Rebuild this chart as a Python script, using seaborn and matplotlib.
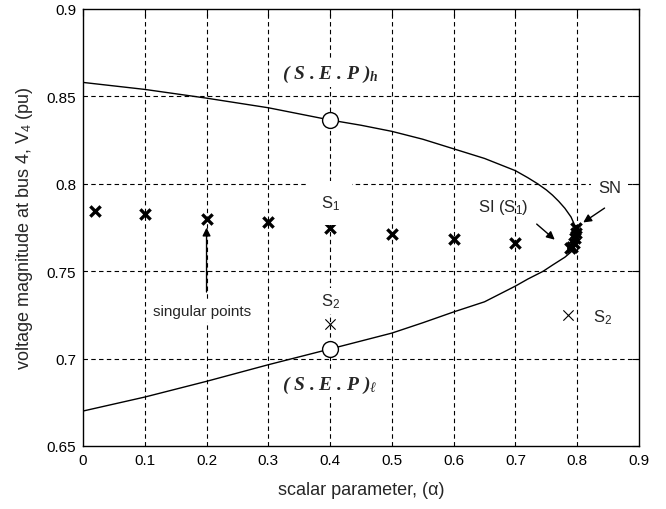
import matplotlib
matplotlib.use("Agg")
import matplotlib.pyplot as plt
import seaborn as sns
import pandas as pd
import numpy as np

# ---- data ----
upper_alpha = [0, 0.1, 0.2, 0.3, 0.4, 0.45, 0.5, 0.55, 0.6, 0.65, 0.7, 0.72, 0.736, 0.75,
               0.76, 0.77, 0.78, 0.79, 0.795, 0.798, 0.799]
upper_v = [0.858, 0.854, 0.849, 0.8435, 0.8365, 0.8335, 0.830, 0.8255, 0.820, 0.8145, 0.8075,
           0.8035, 0.800, 0.7965, 0.7935, 0.790, 0.786, 0.781, 0.777, 0.773, 0.770]
lower_alpha = [0.796, 0.79, 0.78, 0.76, 0.745, 0.72, 0.7, 0.65, 0.6, 0.55, 0.5, 0.4, 0.3,
               0.2, 0.1, 0]
lower_v = [0.765, 0.761, 0.758, 0.7535, 0.750, 0.7455, 0.7415, 0.7325, 0.7267, 0.7205, 0.7146,
           0.7055, 0.6965, 0.687, 0.678, 0.670]

sing_alpha = [0.02, 0.1, 0.2, 0.3, 0.4, 0.5, 0.6, 0.7]
sing_v = [0.7845, 0.783, 0.780, 0.778, 0.775, 0.7713, 0.7684, 0.766]

cluster_alpha = [0.788, 0.792, 0.795, 0.797, 0.798, 0.798]
cluster_v = [0.763, 0.764, 0.766, 0.769, 0.772, 0.775]

thin_alpha = [0.4, 0.785]
thin_v = [0.720, 0.725]

sep_alpha = [0.4, 0.4]
sep_v = [0.8365, 0.7055]

x_ticks = [0, 0.1, 0.2, 0.3, 0.4, 0.5, 0.6, 0.7, 0.8, 0.9]
y_ticks = [0.65, 0.7, 0.75, 0.8, 0.85, 0.9]
x_ticklabels = ["0", "0.1", "0.2", "0.3", "0.4", "0.5", "0.6", "0.7", "0.8", "0.9"]
y_ticklabels = ["0.65", "0.7", "0.75", "0.8", "0.85", "0.9"]

# ---- style ----
sns.set_theme(style="white")
plt.rcParams["font.family"] = ["Liberation Sans", "DejaVu Sans"]
plt.rcParams["mathtext.fontset"] = "custom"
plt.rcParams["mathtext.rm"] = "Liberation Sans"
plt.rcParams["mathtext.it"] = "Liberation Serif:italic"
plt.rcParams["mathtext.bf"] = "Liberation Serif:bold"
plt.rcParams["mathtext.bfit"] = "Liberation Serif:bold:italic"

fig = plt.figure(figsize=(6.66, 5.10), dpi=100)
ax = fig.add_axes([83 / 666, 1 - 447 / 510, (639 - 83) / 666, (447 - 10) / 510])

# grid
for xv in x_ticks[1:-1]:
    ax.axvline(xv, color="black", lw=0.8, ls=(0, (4, 3)), zorder=0)
for yv in y_ticks[1:-1]:
    ax.axhline(yv, color="black", lw=0.8, ls=(0, (4, 3)), zorder=0)

# PV curve
curve = pd.DataFrame({
    "alpha": upper_alpha + lower_alpha,
    "v": upper_v + lower_v,
})
sns.lineplot(data=curve, x="alpha", y="v", sort=False, estimator=None,
             color="black", lw=1.0, ax=ax, zorder=3)

# thick nose segment
nose = pd.DataFrame({"alpha": cluster_alpha, "v": cluster_v})
sns.lineplot(data=nose, x="alpha", y="v", sort=False, estimator=None,
             color="black", lw=4, ax=ax, zorder=4)

# singular points
sing = pd.DataFrame({"alpha": sing_alpha + cluster_alpha, "v": sing_v + cluster_v})
sns.scatterplot(data=sing, x="alpha", y="v", marker="x", s=55, color="black",
                linewidth=2.4, ax=ax, zorder=5)

thin = pd.DataFrame({"alpha": thin_alpha, "v": thin_v})
sns.scatterplot(data=thin, x="alpha", y="v", marker="x", s=55, color="black",
                linewidth=0.8, ax=ax, zorder=5)

sep = pd.DataFrame({"alpha": sep_alpha, "v": sep_v})
sns.scatterplot(data=sep, x="alpha", y="v", marker="o", s=130, facecolor="white",
                edgecolor="black", linewidth=1.0, ax=ax, zorder=6)

# ---- text annotations ----
ax.text(0.4, 0.863, r"( S . E . P )$_{\mathbfit{h}}$", ha="center", va="center",
        fontsize=14, fontfamily="Liberation Serif", fontweight="bold", fontstyle="italic",
        bbox=dict(facecolor="white", edgecolor="none", pad=2), zorder=7)
ax.text(0.4, 0.6855, r"( S . E . P )$_{\ell}$", ha="center", va="center",
        fontsize=14, fontfamily="Liberation Serif", fontweight="bold", fontstyle="italic",
        bbox=dict(facecolor="white", edgecolor="none", pad=2), zorder=7)
ax.text(0.4, 0.789, r"S$_1$", ha="center", va="center", fontsize=12,
        bbox=dict(facecolor="white", edgecolor="none", pad=9), zorder=7)
ax.text(0.4, 0.733, r"S$_2$", ha="center", va="center", fontsize=12,
        bbox=dict(facecolor="white", edgecolor="none", pad=3), zorder=7)
ax.text(0.841, 0.724, r"S$_2$", ha="center", va="center", fontsize=12, zorder=7)
ax.text(0.68, 0.787, r"SI (S$_1$)", ha="center", va="center", fontsize=12, zorder=7)
ax.text(0.853, 0.798, "SN", ha="center", va="center", fontsize=12,
        bbox=dict(facecolor="white", edgecolor="none", pad=5), zorder=7)
ax.text(0.193, 0.7275, "singular points", ha="center", va="center", fontsize=11,
        bbox=dict(facecolor="white", edgecolor="none", pad=3), zorder=7)

arrow = dict(arrowstyle="-|>", color="black", lw=1.0, mutation_scale=12)
ax.annotate("", xy=(0.2, 0.7765), xytext=(0.2, 0.7365), arrowprops=arrow, zorder=8)
ax.annotate("", xy=(0.806, 0.777), xytext=(0.848, 0.787), arrowprops=arrow, zorder=8)
ax.annotate("", xy=(0.767, 0.767), xytext=(0.731, 0.778), arrowprops=arrow, zorder=8)

# ---- axes ----
ax.set_xlim(0, 0.9)
ax.set_ylim(0.65, 0.9)
ax.set_xticks(x_ticks)
ax.set_xticklabels(x_ticklabels)
ax.set_yticks(y_ticks)
ax.set_yticklabels(y_ticklabels)
ax.tick_params(direction="in", length=5, width=0.8, top=True, right=True,
               labelsize=11, colors="black", pad=5)
for sp in ax.spines.values():
    sp.set_color("black")
    sp.set_linewidth(1.0)
ax.set_xlabel("scalar parameter, (α)", fontsize=13, labelpad=10)
ax.set_ylabel(r"voltage magnitude at bus 4, V$_4$ (pu)", fontsize=13, labelpad=8)

fig.savefig("out.png", dpi=100)
